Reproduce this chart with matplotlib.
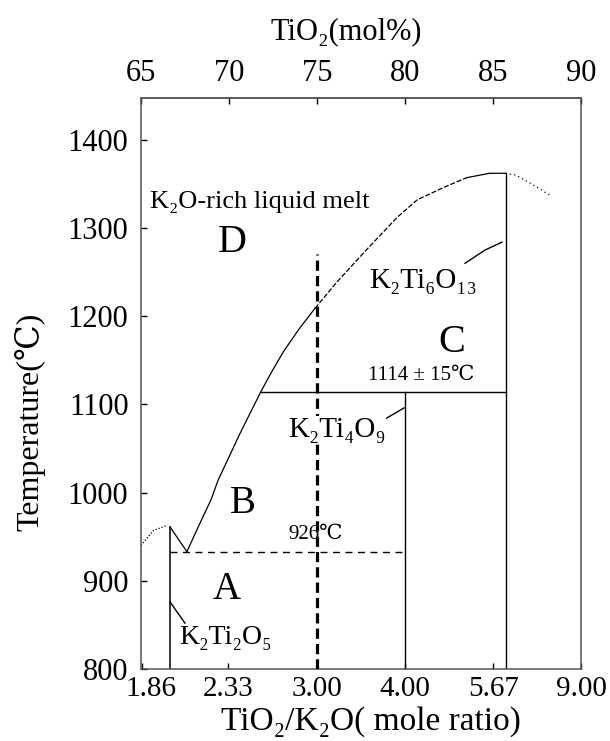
import matplotlib
matplotlib.use("Agg")
import matplotlib.pyplot as plt
import matplotlib.transforms as mtransforms
import numpy as np

SERIF = ["Liberation Serif", "DejaVu Serif", "Noto Sans CJK SC"]

# axis ticks
top_ticks = [65, 70, 75, 80, 85, 90]                      # TiO2 mol%
ratio_ticks = [1.86, 2.33, 3.00, 4.00, 5.67, 9.00]        # TiO2/K2O mole ratio
ratio_labels = ["1.86", "2.33", "3.00", "4.00", "5.67", "9.00"]
temp_ticks = [800, 900, 1000, 1100, 1200, 1300, 1400]

# compounds (mole ratio) and their upper limits (degC)
k2ti2o5_ratio, k2ti2o5_top = 2, 961
k2ti4o9_ratio, k2ti4o9_top = 4, 1114
k2ti6o13_ratio, k2ti6o13_top = 6, 1362
peritectic_T = 1114
eutectic_T = 933
section_ratio, section_top = 3.00, 1270

# liquidus pieces (mol% TiO2, degC)
meta_x = [65.0, 65.7, 66.5]
meta_T = [940, 957, 963]
drop_x = [66.65, 67.61]
drop_T = [961, 933]
liqB_x = [67.61, 68.18, 68.98, 69.38, 70.6, 71.8, 72.4, 73.1, 74.0, 74.89]
liqB_T = [933, 958, 992, 1014, 1066, 1114, 1136, 1160, 1186, 1209]
liqC_x = [74.89, 76.1, 77.8, 79.55, 80.7, 82.2, 83.5]
liqC_T = [1209, 1238, 1275, 1312, 1332, 1346, 1357]
top_x = [83.5, 84.8, 85.71]
top_T = [1357, 1362, 1362]
tail_x = [85.71, 86.3, 87.1, 87.6, 88.24]
tail_T = [1362, 1360, 1351, 1345, 1337]


def to_mol(r):
    r = np.asarray(r, dtype=float)
    return r / (1 + r) * 100


fig = plt.figure(figsize=(6.1, 7.41), dpi=100)
ax = fig.add_axes([141 / 610, 72 / 741, 440 / 610, 571.3 / 741])
ax.set_xlim(65, 90)
ax.set_ylim(800, 1447.7)

for s in ax.spines.values():
    s.set_color("#555555")
    s.set_linewidth(1.1)

x2 = to_mol(k2ti2o5_ratio)
x4 = to_mol(k2ti4o9_ratio)
x6 = to_mol(k2ti6o13_ratio)
x3 = to_mol(section_ratio)

lw = 0.9
# compound lines
ax.plot([x2, x2], [800, k2ti2o5_top], color="black", lw=1.1)
ax.plot([x4, x4], [800, k2ti4o9_top], color="black", lw=1.0)
ax.plot([x6, x6], [800, k2ti6o13_top], color="black", lw=1.0)
ax.plot([liqB_x[5], x6], [peritectic_T, peritectic_T], color="black", lw=1.0)
ax.plot([x2, x4], [eutectic_T, eutectic_T], color="black", lw=1.0, dashes=(5, 4))

# liquidus
ax.plot(meta_x, meta_T, color="black", lw=lw, ls=(0, (1, 1.5)))
ax.plot(drop_x, drop_T, color="black", lw=lw)
ax.plot(liqB_x, liqB_T, color="black", lw=lw)
ax.plot(liqC_x, liqC_T, color="black", lw=lw, dashes=(4, 1.5))
ax.plot(top_x, top_T, color="black", lw=lw)
ax.plot(tail_x, tail_T, color="black", lw=lw, ls=(0, (1, 2.5)))

# section line at ratio 3
ax.plot([x3, x3], [800, section_top], color="black", lw=2.3, dashes=(3.2, 1.6), zorder=3)

# leader lines
ax.plot([83.41, 84.55, 85.51], [1260, 1275, 1284], color="black", lw=1.0)
ax.plot([78.75, 79.94], [1082, 1096], color="black", lw=1.0)
ax.plot([66.65, 67.5], [876, 852], color="black", lw=1.0)

# labels
ax.text(65.51, 1329.5, "K₂O-rich liquid melt", family=SERIF, fontsize=19,
        ha="left", va="center")
ax.text(70.17, 1284, "D", family=SERIF, fontsize=29, ha="center", va="center")
ax.text(82.67, 1170, "C", family=SERIF, fontsize=29, ha="center", va="center")
ax.text(70.8, 988, "B", family=SERIF, fontsize=28, ha="center", va="center")
ax.text(69.89, 890, "A", family=SERIF, fontsize=28, ha="center", va="center")
ax.text(81.02, 1240, "K₂Ti₆O₁₃", family=SERIF, fontsize=21, ha="center", va="center")
ax.text(76.14, 1071, "K₂Ti₄O₉", family=SERIF, fontsize=21, ha="center", va="center",
        zorder=4, bbox=dict(facecolor="white", edgecolor="none", pad=0.5))
ax.text(69.83, 836, "K₂Ti₂O₅", family=SERIF, fontsize=20, ha="center", va="center")
ax.text(80.9, 1133, "1114 ± 15℃", family=SERIF, fontsize=15, ha="center", va="center")
ax.text(74.94, 953, "926℃", family=SERIF, fontsize=15, ha="center", va="center")

# bottom axis: mole ratio
ax.set_xticks(to_mol(ratio_ticks))
ax.set_xticklabels(ratio_labels)
ax.set_yticks(temp_ticks)
ax.tick_params(axis="x", direction="in", length=4, width=1, pad=5, labelsize=21)
ax.tick_params(axis="y", direction="in", length=4, width=1, pad=9, labelsize=22)
for lab in ax.get_xticklabels() + ax.get_yticklabels():
    lab.set_family(SERIF)
# first ratio label sits a little right of its tick, as in the original
first = ax.get_xticklabels()[0]
first.set_transform(first.get_transform() +
                    mtransforms.ScaledTranslation(9 / 100, 0, fig.dpi_scale_trans))

# top axis: mol% TiO2
sec = ax.secondary_xaxis("top")
sec.set_xticks(top_ticks)
sec.tick_params(direction="in", length=4, width=1, pad=7, labelsize=22)
sec.spines["top"].set_color("#555555")
sec.spines["top"].set_linewidth(1.1)
for lab in sec.get_xticklabels():
    lab.set_family(SERIF)

fig.text(346 / 610, 1 - 32 / 741, "TiO₂(mol%)", family=SERIF, fontsize=22,
         ha="center", va="center")
fig.text(371 / 610, 1 - 722 / 741, "TiO₂/K₂O( mole ratio)", family=SERIF, fontsize=24,
         ha="center", va="center")
fig.text(30 / 610, 1 - 422 / 741, "Temperature(℃)", family=SERIF, fontsize=23,
         ha="center", va="center", rotation=90)

fig.savefig("out.png", dpi=100)
